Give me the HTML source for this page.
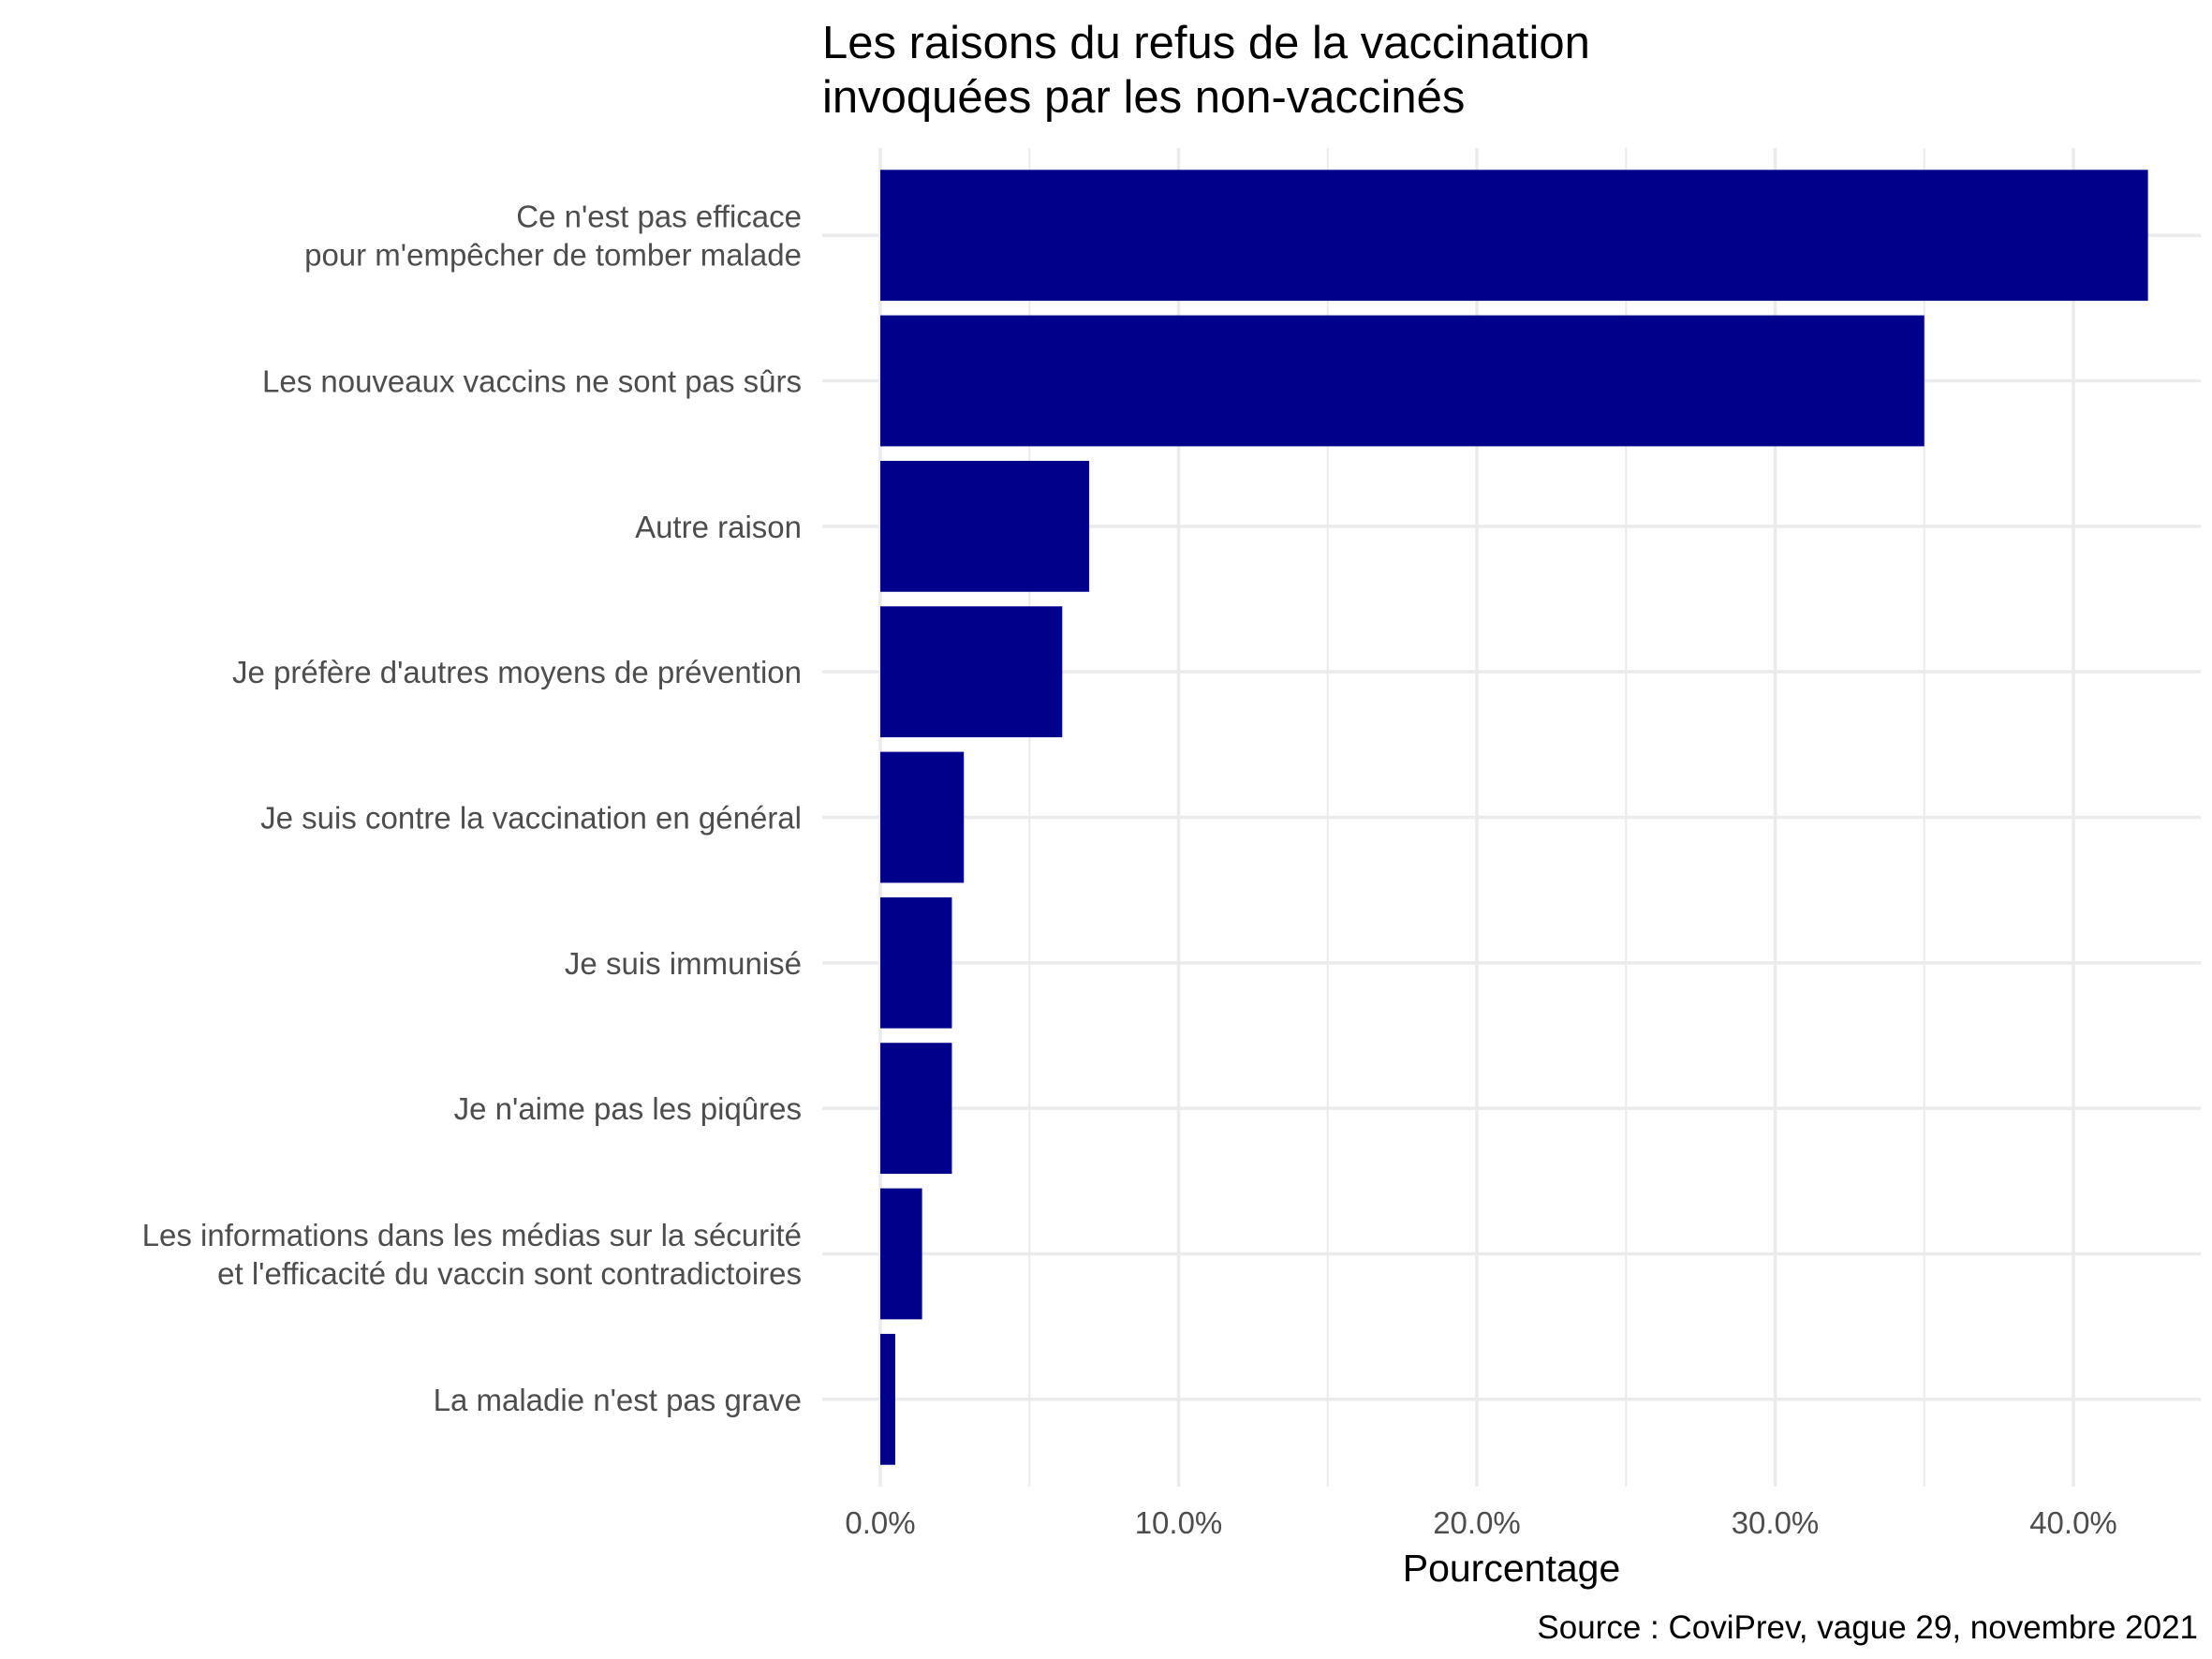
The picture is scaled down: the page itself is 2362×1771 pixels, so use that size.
<!DOCTYPE html>
<html><head><meta charset="utf-8"><style>
html,body{margin:0;padding:0;background:#fff}
svg{display:block;font-family:"Liberation Sans",Arial,sans-serif}
</style></head><body>
<svg id="chart" width="2362" height="1771" viewBox="0 0 2362 1771" xmlns="http://www.w3.org/2000/svg">
<rect width="2362" height="1771" fill="#fff"/>
<text x="878" y="62" font-size="49" fill="#000">Les raisons du refus de la vaccination</text>
<text x="878" y="120" font-size="49" fill="#000">invoquées par les non-vaccinés</text>
<g id="grid"></g><g id="bars"></g><g id="ylabels"></g><g id="xlabels"></g>
<text x="1614" y="1688" font-size="41" text-anchor="middle" fill="#000">Pourcentage</text>
<text x="2347" y="1749" font-size="35" text-anchor="end" fill="#000">Source : CoviPrev, vague 29, novembre 2021</text>
</svg>
<script>
const categories=[["Ce n'est pas efficace","pour m'empêcher de tomber malade"],["Les nouveaux vaccins ne sont pas sûrs"],["Autre raison"],["Je préfère d'autres moyens de prévention"],["Je suis contre la vaccination en général"],["Je suis immunisé"],["Je n'aime pas les piqûres"],["Les informations dans les médias sur la sécurité","et l'efficacité du vaccin sont contradictoires"],["La maladie n'est pas grave"]];
const values=[42.5,35.0,7.0,6.1,2.8,2.4,2.4,1.4,0.5];
const majorTicks=[0,10,20,30,40];
const minorTicks=[5,15,25,35];
const tickLabels=["0.0%","10.0%","20.0%","30.0%","40.0%"];
const NS="http://www.w3.org/2000/svg";
const px0=878,px1=2350,py0=158,py1=1587,x0=940,xs=31.85;
const step=(py1-py0)/(categories.length+0.2);
const xS=v=>x0+v*xs;
const yS=i=>py0+step*(0.6+i);
function mk(t,a,p){const e=document.createElementNS(NS,t);for(const k in a)e.setAttribute(k,a[k]);p.appendChild(e);return e;}
const grid=document.getElementById('grid'),bars=document.getElementById('bars'),yl=document.getElementById('ylabels'),xl=document.getElementById('xlabels');
minorTicks.forEach(v=>{const l=mk('line',{x1:xS(v),x2:xS(v),y1:py0,y2:py1,stroke:'#ebebeb','stroke-width':2},grid);

});
majorTicks.forEach((v,i)=>{const l=mk('line',{x1:xS(v),x2:xS(v),y1:py0,y2:py1,stroke:'#ebebeb','stroke-width':3.5},grid);


const t=mk('text',{x:xS(v),y:1637,'font-size':33,'text-anchor':'middle',fill:'#4d4d4d'},xl);t.textContent=tickLabels[i];

});
categories.forEach((c,i)=>{const y=yS(i);
const l=mk('line',{x1:px0,x2:px1,y1:y,y2:y,stroke:'#ebebeb','stroke-width':3.5},grid);


const h=step*0.9;
const r=mk('rect',{x:xS(0),y:y-h/2,width:xS(values[i])-xS(0),height:h,fill:'#00008b'},bars);


const lh=41,n=c.length;
c.forEach((s,j)=>{const t=mk('text',{x:856,y:y+12+(j-(n-1)/2)*lh,'font-size':33,'text-anchor':'end',fill:'#4d4d4d'},yl);t.textContent=s;

});
});
</script>
</body></html>
